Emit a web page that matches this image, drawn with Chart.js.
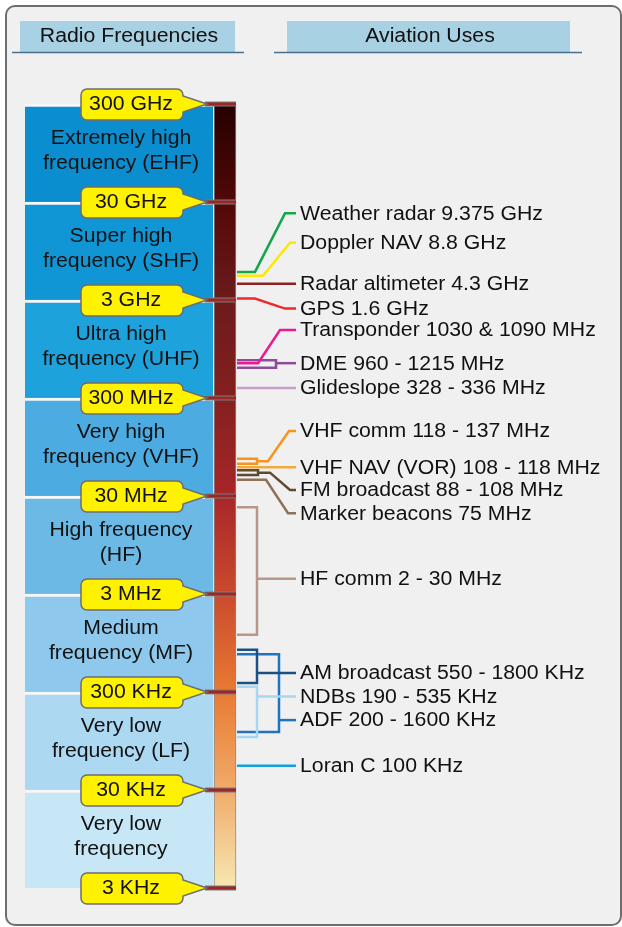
<!DOCTYPE html>
<html>
<head>
<meta charset="utf-8">
<script src="https://cdn.jsdelivr.net/npm/chart.js@4.4.1/dist/chart.umd.min.js"></script>
<style>
    html, body { margin: 0; padding: 0; background: #fff; }
    canvas { display: block; }
</style>
</head>
<body>
<canvas id="freqChart" width="622" height="927"></canvas>
<script>
// Radio bands, top to bottom (Hz)
const bandNames = [
    ['Extremely high', 'frequency (EHF)'],
    ['Super high', 'frequency (SHF)'],
    ['Ultra high', 'frequency (UHF)'],
    ['Very high', 'frequency (VHF)'],
    ['High frequency', '(HF)'],
    ['Medium', 'frequency (MF)'],
    ['Very low', 'frequency (LF)'],
    ['Very low', 'frequency']
];
const bandHigh = [3e11, 3e10, 3e9, 3e8, 3e7, 3e6, 3e5, 3e4];
const bandLow = [3e10, 3e9, 3e8, 3e7, 3e6, 3e5, 3e4, 3e3];

// Decade edges with their callout text
const edgeFreqs = [3e11, 3e10, 3e9, 3e8, 3e7, 3e6, 3e5, 3e4, 3e3];
const edgeLabels = ['300 GHz', '30 GHz', '3 GHz', '300 MHz', '30 MHz', '3 MHz', '300 KHz', '30 KHz', '3 KHz'];

// Aviation uses
const useLabels = [
    'Weather radar 9.375 GHz',
    'Doppler NAV 8.8 GHz',
    'Radar altimeter 4.3 GHz',
    'GPS 1.6 GHz',
    'Transponder 1030 & 1090 MHz',
    'DME 960 - 1215 MHz',
    'Glideslope 328 - 336 MHz',
    'VHF comm 118 - 137 MHz',
    'VHF NAV (VOR) 108 - 118 MHz',
    'FM broadcast 88 - 108 MHz',
    'Marker beacons 75 MHz',
    'HF comm 2 - 30 MHz',
    'AM broadcast 550 - 1800 KHz',
    'NDBs 190 - 535 KHz',
    'ADF 200 - 1600 KHz',
    'Loran C 100 KHz'
];
// where each leader meets the spectrum bar, upper and lower (Hz, as drawn)
const useHigh = [5.8e9, 5.3e9, 4.4e9, 3.1e9, 6.8e8, 7.3e8, 3.8e8, 7.2e7, 5.9e7, 5.5e7, 4.4e7, 2.3e7, 8.1e5, 3.4e5, 7.3e5, 5.3e4];
const useLow  = [5.8e9, 5.3e9, 4.4e9, 3.1e9, 6.8e8, 6.1e8, 3.8e8, 6.4e7, 5.9e7, 4.9e7, 4.4e7, 1.15e6, 3.7e5, 1.04e5, 1.17e5, 5.3e4];
// height of the text row (Hz, as drawn)
const useRow  = [2.3e10, 1.15e10, 4.4e9, 2.45e9, 1.48e9, 6.8e8, 3.8e8, 1.38e8, 5.9e7, 3.45e7, 2.0e7, 4.3e6, 4.7e5, 2.7e5, 1.55e5, 5.3e4];

// ---- styles / layout ----
const FONT = '"Liberation Sans", Arial, Helvetica, sans-serif';
const TEXT_SIZE = 19.5, TEXT_STRETCH = 1.09;   // the source lettering is a bit wide
const bandColors = ['#0a8ecf', '#1196d5', '#1ea2dc', '#4cabe0', '#6db9e6', '#8ec8ec', '#acd8f2', '#c7e7f7'];
const useColors = ['#13a64a', '#ffe800', '#8c2323', '#ee2a2a', '#ec1a8c', '#8e4a9c', '#c99ec9', '#f7941d',
                   '#efac3e', '#5e4a30', '#8f7158', '#b8968a', '#1c4f82', '#a6d8f2', '#1f75bd', '#12a0df'];
// x of bends for each leader: [bracket/bend, (stem bend), slant end]
const leaderBend = [[255, 285], [263, 290], [], [255, 285], [258, 280], [276], [], [257, 268, 289],
                    [], [258, 270, 290], [266, 288], [257], [257], [257], [279], []];
const BAR_EDGE = 237, LINE_END = 296, TEXT_X = 300;

function leaderPaths(i) {
    const hi = useHigh[i], lo = useLow[i], row = useRow[i], b = leaderBend[i];
    if (hi === lo) {
        if (hi === row) return [[{ x: BAR_EDGE, y: row }, { x: LINE_END, y: row }]];
        return [[{ x: BAR_EDGE, y: hi }, { x: b[0], y: hi }, { x: b[1], y: row }, { x: LINE_END, y: row }]];
    }
    const bracket = [{ x: BAR_EDGE, y: hi }, { x: b[0], y: hi }, { x: b[0], y: lo }, { x: BAR_EDGE, y: lo }];
    if (row <= hi && row >= lo) return [bracket, [{ x: b[0], y: row }, { x: LINE_END, y: row }]];
    const mid = Math.sqrt(hi * lo);
    return [bracket, [{ x: b[0], y: mid }, { x: b[1], y: mid }, { x: b[2], y: row }, { x: LINE_END, y: row }]];
}

const datasets = [];

// band boxes
datasets.push({
    type: 'bar',
    data: bandHigh.map((h, i) => ({ x: 119, y: [bandLow[i], h] })),
    backgroundColor: bandColors,
    borderColor: '#f7f7f7',
    borderWidth: { top: 3, right: 0, bottom: 0, left: 0 },
    borderSkipped: false,
    barThickness: 188,
    grouped: false,
    order: 10
});

// spectrum bar with gradient
datasets.push({
    type: 'bar',
    data: [{ x: 225, y: [edgeFreqs[edgeFreqs.length - 1], edgeFreqs[0]] }],
    backgroundColor: (c) => {
        const area = c.chart.chartArea;
        if (!area) return '#a02828';
        const g = c.chart.ctx.createLinearGradient(0, area.top, 0, area.bottom);
        g.addColorStop(0, '#260000');
        g.addColorStop(0.125, '#520808');
        g.addColorStop(0.25, '#6c1b1b');
        g.addColorStop(0.375, '#84201f');
        g.addColorStop(0.5, '#a82628');
        g.addColorStop(0.625, '#ca4a2e');
        g.addColorStop(0.75, '#e97a32');
        g.addColorStop(0.875, '#f0ab6a');
        g.addColorStop(1, '#f6e8b2');
        return g;
    },
    borderColor: '#8a8a8a',
    borderWidth: 1,
    borderSkipped: false,
    barThickness: 22,
    grouped: false,
    order: 9
});

// leader lines
useLabels.forEach((label, i) => {
    leaderPaths(i).forEach(path => {
        datasets.push({
            type: 'line',
            data: path,
            borderColor: useColors[i],
            borderWidth: 2.5,
            pointRadius: 0,
            fill: false,
            tension: 0,
            order: 1
        });
    });
});

function roundRect(c, x, y, w, h, r) {
    c.beginPath();
    c.moveTo(x + r, y);
    c.lineTo(x + w - r, y);
    c.arcTo(x + w, y, x + w, y + r, r);
    c.lineTo(x + w, y + h - r);
    c.arcTo(x + w, y + h, x + w - r, y + h, r);
    c.lineTo(x + r, y + h);
    c.arcTo(x, y + h, x, y + h - r, r);
    c.lineTo(x, y + r);
    c.arcTo(x, y, x + r, y, r);
    c.closePath();
}

// stretched text, anchored at x by align
function wideText(c, text, x, y, align) {
    c.save();
    c.translate(x, y);
    c.scale(TEXT_STRETCH, 1);
    c.textAlign = align;
    c.fillText(text, 0, 0);
    c.restore();
}

const framePlugin = {
    id: 'frame',
    beforeDraw(chart) {
        const c = chart.ctx;
        c.save();
        c.fillStyle = '#ffffff';
        c.fillRect(0, 0, chart.width, chart.height);
        roundRect(c, 6, 6, 615, 919, 9);
        c.fillStyle = '#f0f0f0';
        c.fill();
        c.lineWidth = 2;
        c.strokeStyle = '#6e6e6e';
        c.stroke();

        // column headers
        c.fillStyle = '#a9d1e4';
        c.fillRect(20, 21, 215, 31);
        c.fillRect(287, 21, 283, 31);
        c.strokeStyle = '#4a7090';
        c.lineWidth = 1.5;
        c.beginPath();
        c.moveTo(12, 52.5); c.lineTo(244, 52.5);
        c.moveTo(274, 52.5); c.lineTo(582, 52.5);
        c.stroke();
        c.fillStyle = '#111';
        c.font = TEXT_SIZE + 'px ' + FONT;
        c.textBaseline = 'middle';
        wideText(c, 'Radio Frequencies', 129, 37, 'center');
        wideText(c, 'Aviation Uses', 430, 37, 'center');
        c.restore();
    },
    afterDatasetsDraw(chart) {
        const c = chart.ctx;
        const y = chart.scales.y;
        c.save();
        c.textBaseline = 'middle';
        c.font = TEXT_SIZE + 'px ' + FONT;

        // band names
        c.fillStyle = '#111';
        bandNames.forEach((lines, i) => {
            const ym = y.getPixelForValue(Math.sqrt(bandHigh[i] * bandLow[i])) - 2;
            wideText(c, lines[0], 121, ym - 12.5, 'center');
            wideText(c, lines[1], 121, ym + 12.5, 'center');
        });

        // decade ticks across the bar and callouts
        edgeFreqs.forEach((f, i) => {
            const yp = Math.round(y.getPixelForValue(f));
            c.fillStyle = '#7c7c7c';
            c.fillRect(205, yp - 2.5, 31, 5);
            c.fillStyle = '#9a2626';
            c.fillRect(205, yp - 1.5, 31, 3);

            const top = yp - 15, bot = yp + 16, l = 81, r = 183, rad = 6;
            c.beginPath();
            c.moveTo(l + rad, top);
            c.lineTo(r - rad, top);
            c.arcTo(r, top, r, top + rad, rad);
            c.lineTo(r, yp - 8);
            c.lineTo(207, yp);
            c.lineTo(r, yp + 8);
            c.lineTo(r, bot - rad);
            c.arcTo(r, bot, r - rad, bot, rad);
            c.lineTo(l + rad, bot);
            c.arcTo(l, bot, l, bot - rad, rad);
            c.lineTo(l, top + rad);
            c.arcTo(l, top, l + rad, top, rad);
            c.closePath();
            c.fillStyle = '#fff200';
            c.fill();
            c.lineWidth = 1.5;
            c.strokeStyle = '#6d6d6d';
            c.stroke();
            c.fillStyle = '#111';
            wideText(c, edgeLabels[i], 131, yp + 0.5, 'center');
        });

        // aviation use labels
        c.fillStyle = '#111';
        useLabels.forEach((label, i) => {
            wideText(c, label, TEXT_X, y.getPixelForValue(useRow[i]) + 1, 'left');
        });
        c.restore();
    }
};

const ctx = document.getElementById('freqChart').getContext('2d');
const freqChart = new Chart(ctx, {
    type: 'bar',
    data: { datasets: datasets },
    options: {
        responsive: false,
        animation: false,
        devicePixelRatio: 1,
        layout: { padding: { left: 0, right: 0, top: 104, bottom: 39 } },
        scales: {
            x: { type: 'linear', min: 0, max: 622, display: false, offset: false },
            y: { type: 'logarithmic', min: 3e3, max: 3e11, display: false }
        },
        plugins: {
            legend: { display: false },
            tooltip: { enabled: false }
        }
    },
    plugins: [framePlugin]
});
</script>
</body>
</html>
